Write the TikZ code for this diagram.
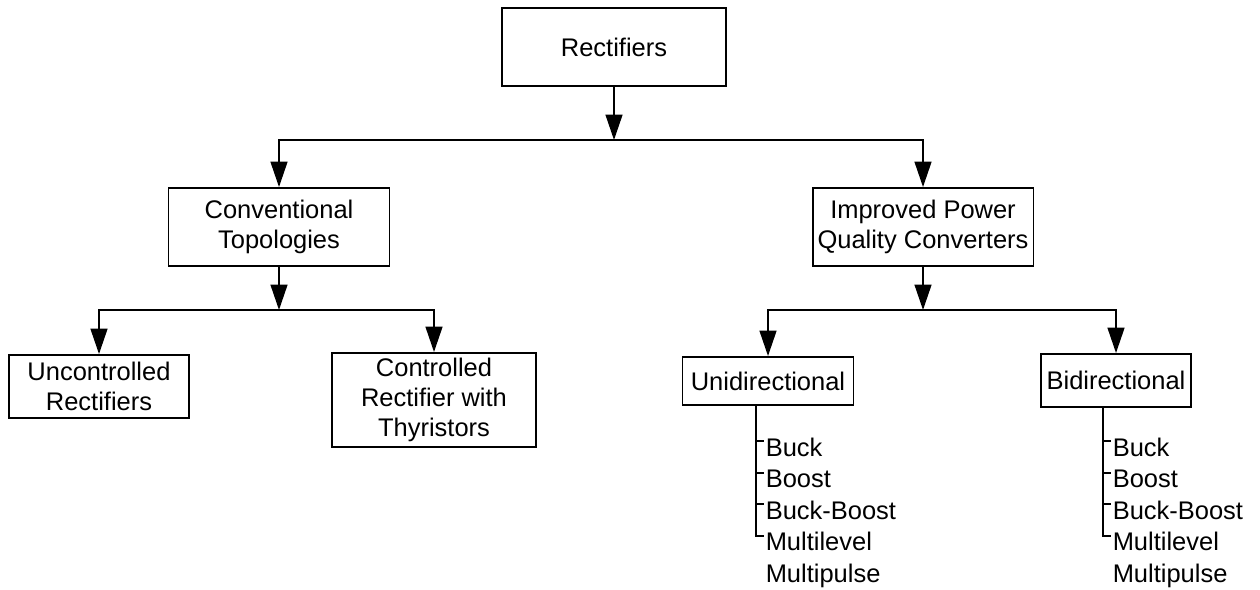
\documentclass[tikz,border=0pt]{standalone}
\usepackage{fontspec}
\setmainfont{Liberation Sans}
\usetikzlibrary{arrows.meta}

\begin{document}
\begin{tikzpicture}[x=0.02cm, y=-0.02cm, line width=1.1pt,
                    font=\fontsize{14.5}{17.2}\selectfont]
            \useasboundingbox (0,0) rectangle (1260,589);

            \begin{scope}[every node/.style = {rectangle, draw, align=center, inner sep=0pt}]
                \node[minimum width=4.48cm, minimum height=1.56cm] (R) at (614,47)    {Rectifiers};
                \node[minimum width=4.42cm, minimum height=1.56cm] (C) at (279,227)   {Conventional\\Topologies};
                \node[minimum width=4.42cm, minimum height=1.56cm] (Q) at (923,227)   {Improved Power\\Quality Converters};
                \node[minimum width=3.60cm, minimum height=1.26cm] (U) at (99,386.5)  {Uncontrolled\\Rectifiers};
                \node[minimum width=4.08cm, minimum height=1.88cm] (T) at (434,400)   {Controlled\\Rectifier with\\Thyristors};
                \node[minimum width=3.42cm, minimum height=0.96cm] (D) at (768,381)   {Unidirectional};
                \node[minimum width=3.00cm, minimum height=1.06cm] (B) at (1116,380.5) {Bidirectional};
            \end{scope}

            \begin{scope}[every node/.style = {anchor=base west, inner xsep=5pt, inner ysep=0pt}]
                \node (D1) at (756,456)   {Buck};
                \node (D2) at (756,487.5) {Boost};
                \node (D3) at (756,519)   {Buck-Boost};
                \node (D4) at (756,550.5) {Multilevel};
                \node (D5) at (756,582)   {Multipulse};
                \node (B1) at (1103,456)   {Buck};
                \node (B2) at (1103,487.5) {Boost};
                \node (B3) at (1103,519)   {Buck-Boost};
                \node (B4) at (1103,550.5) {Multilevel};
                \node (B5) at (1103,582)   {Multipulse};
            \end{scope}

            \coordinate (J0) at (614,140);
            \coordinate (J1) at (279,310);
            \coordinate (J2) at (923,310);

            \begin{scope}[>={Triangle[length=14.5pt, width=9.6pt]}]
                \path [->] (R) edge (J0);
                \draw [->] (J0) -| (C);
                \draw [->] (J0) -| (Q);
                \path [->] (C) edge (J1);
                \draw [->] (J1) -| (U);
                \draw [->] (J1) -| (T);
                \path [->] (Q) edge (J2);
                \draw [->] (J2) -| (D);
                \draw [->] (J2) -| (B);
            \end{scope}

            % bracket lists
            \foreach \l in {D,B} {
                \draw (\l.south -| \l1.base west) -- ([yshift=8.5pt]\l4.base west) -- ++(8,0);
                \foreach \i in {1,2,3}
                    \draw ([yshift=8.5pt]\l\i.base west) -- ++(8,0);
            }
        \end{tikzpicture}
\end{document}
